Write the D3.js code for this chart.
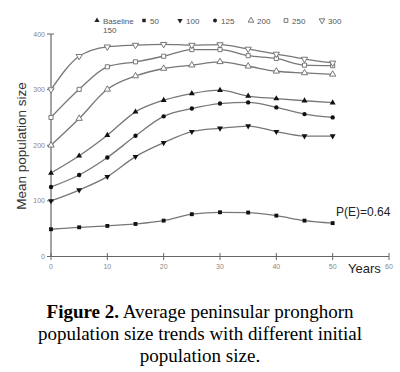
<!DOCTYPE html>
<html>
<head>
<meta charset="utf-8">
<script src="https://cdn.jsdelivr.net/npm/d3@7"></script>
<style>
  html, body { margin: 0; padding: 0; background: #fff; }
  svg { display: block; }
</style>
</head>
<body>
<script>
const years = [0, 5, 10, 15, 20, 25, 30, 35, 40, 45, 50]
const pop50 = [49, 52.5, 55, 58.5, 64.5, 76, 79.5, 79, 73.5, 64.5, 60]
const pop100 = [100, 119.5, 143.5, 179.5, 204.5, 224.5, 230.5, 234.5, 224.5, 216.5, 216.5]
const pop125 = [125, 146.5, 178, 217, 252, 266, 275, 277, 268, 256, 250]
const pop150 = [150, 181, 218, 260, 281, 293, 299, 288.5, 284, 280, 276.5]
const pop200 = [200, 248, 300.5, 324.5, 338, 344, 350, 342, 333, 330, 327.5]
const pop250 = [250, 300.5, 341, 350, 360, 372, 372, 361, 356, 344, 343]
const pop300 = [300, 360, 377, 380, 381.5, 380, 381, 373, 364, 355, 348]
const xTicks = [0, 10, 20, 30, 40, 50, 60]
const yTicks = [0, 100, 200, 300, 400]

const series = [
    { label: "Baseline", label2: "150", values: pop150, sym: "up", open: false },
    { label: "50", values: pop50, sym: "square", open: false },
    { label: "100", values: pop100, sym: "down", open: false },
    { label: "125", values: pop125, sym: "circle", open: false },
    { label: "200", values: pop200, sym: "up", open: true },
    { label: "250", values: pop250, sym: "square", open: true },
    { label: "300", values: pop300, sym: "down", open: true },
]

const svg = d3.select("body").append("svg")
    .attr("width", 400)
    .attr("height", 372)

const x = d3.scaleLinear().domain([0, 60]).range([51, 389])
const y = d3.scaleLinear().domain([0, 400]).range([256.5, 34])

// axes: ticks cross the axis line
const axisColor = "#666"
const gx = svg.append("g")
gx.append("line")
    .attr("x1", x(0)).attr("x2", x(60))
    .attr("y1", y(0)).attr("y2", y(0))
    .attr("stroke", axisColor).attr("stroke-width", 1.2)
gx.selectAll(".tick")
    .data(xTicks)
    .join("line")
    .attr("x1", (d) => x(d)).attr("x2", (d) => x(d))
    .attr("y1", y(0) - 3.5).attr("y2", y(0) + 3.5)
    .attr("stroke", axisColor).attr("stroke-width", 1)
gx.selectAll("text")
    .data(xTicks)
    .join("text")
    .attr("x", (d) => x(d))
    .attr("y", 269)
    .attr("text-anchor", "middle")
    .attr("font-family", "Arial, 'Liberation Sans', sans-serif")
    .attr("font-size", 7)
    .attr("fill", "#888")
    .text((d) => d)

const gy = svg.append("g")
gy.append("line")
    .attr("x1", x(0)).attr("x2", x(0))
    .attr("y1", y(0)).attr("y2", y(400))
    .attr("stroke", axisColor).attr("stroke-width", 1.2)
gy.selectAll(".tick")
    .data(yTicks)
    .join("line")
    .attr("x1", x(0) - 4).attr("x2", x(0) + 3)
    .attr("y1", (d) => y(d)).attr("y2", (d) => y(d))
    .attr("stroke", axisColor).attr("stroke-width", 1)
gy.selectAll("text")
    .data(yTicks)
    .join("text")
    .attr("x", 45)
    .attr("y", (d) => y(d) + 2.5)
    .attr("text-anchor", "end")
    .attr("font-family", "Arial, 'Liberation Sans', sans-serif")
    .attr("font-size", 7)
    .attr("fill", "#888")
    .text((d) => d)

svg.append("text")
    .attr("transform", "translate(26, 146) rotate(-90)")
    .attr("text-anchor", "middle")
    .attr("font-family", "Arial, 'Liberation Sans', sans-serif")
    .attr("font-size", 13.5)
    .attr("fill", "#333")
    .text("Mean population size")

svg.append("text")
    .attr("x", 348)
    .attr("y", 273)
    .attr("font-family", "Arial, 'Liberation Sans', sans-serif")
    .attr("font-size", 13)
    .attr("fill", "#222")
    .text("Years")

svg.append("text")
    .attr("x", 336)
    .attr("y", 216)
    .attr("font-family", "Arial, 'Liberation Sans', sans-serif")
    .attr("font-size", 12)
    .attr("fill", "#222")
    .text("P(E)=0.64")

// markers
const symbolPath = (sym, size) => {
    const type = sym === "square" ? d3.symbolSquare
        : sym === "circle" ? d3.symbolCircle
        : d3.symbolTriangle
    return d3.symbol().type(type).size(size)()
}
const symRotate = (sym) => (sym === "down" ? " rotate(180)" : "")

const line = d3.line()
    .x((d, i) => x(years[i]))
    .y((d) => y(d))
    .curve(d3.curveMonotoneX)

series.forEach((s) => {
    const g = svg.append("g")
    g.append("path")
        .attr("d", line(s.values))
        .attr("fill", "none")
        .attr("stroke", "#777")
        .attr("stroke-width", 1.3)
    g.selectAll("path.m")
        .data(s.values)
        .join("path")
        .attr("class", "m")
        .attr("d", symbolPath(s.sym, s.open ? 17 : 15))
        .attr("transform", (d, i) => `translate(${x(years[i])},${y(d)})${symRotate(s.sym)}`)
        .attr("fill", s.open ? "#fff" : "#111")
        .attr("stroke", s.open ? "#777" : "none")
        .attr("stroke-width", 1)
})

// legend
const legendX = [97, 144, 180, 215, 251, 286, 322]
const lg = svg.append("g")
series.forEach((s, i) => {
    lg.append("path")
        .attr("d", symbolPath(s.sym, s.open ? 14 : 12))
        .attr("transform", `translate(${legendX[i]},20.5)${symRotate(s.sym)}`)
        .attr("fill", s.open ? "#fff" : "#222")
        .attr("stroke", s.open ? "#666" : "none")
        .attr("stroke-width", 0.9)
    lg.append("text")
        .attr("x", legendX[i] + 6)
        .attr("y", 23.5)
        .attr("font-family", "Arial, 'Liberation Sans', sans-serif")
        .attr("font-size", 8)
        .attr("fill", "#555")
        .text(s.label)
    if (s.label2) {
        lg.append("text")
            .attr("x", legendX[i] + 6)
            .attr("y", 33)
            .attr("font-family", "Arial, 'Liberation Sans', sans-serif")
            .attr("font-size", 8)
            .attr("fill", "#555")
            .text(s.label2)
    }
})

// caption
const caption = [
    [{ t: "Figure 2.", b: true }, { t: " Average peninsular pronghorn", b: false }],
    [{ t: "population size trends with different initial", b: false }],
    [{ t: "population size.", b: false }],
]
caption.forEach((parts, i) => {
    const t = svg.append("text")
        .attr("x", 200)
        .attr("y", 318 + i * 22)
        .attr("text-anchor", "middle")
        .attr("font-family", "'Liberation Serif', 'Times New Roman', serif")
        .attr("font-size", 19)
        .attr("fill", "#000")
    parts.forEach((p) => {
        t.append("tspan")
            .attr("font-weight", p.b ? "bold" : "normal")
            .text(p.t)
    })
})
</script>
</body>
</html>
